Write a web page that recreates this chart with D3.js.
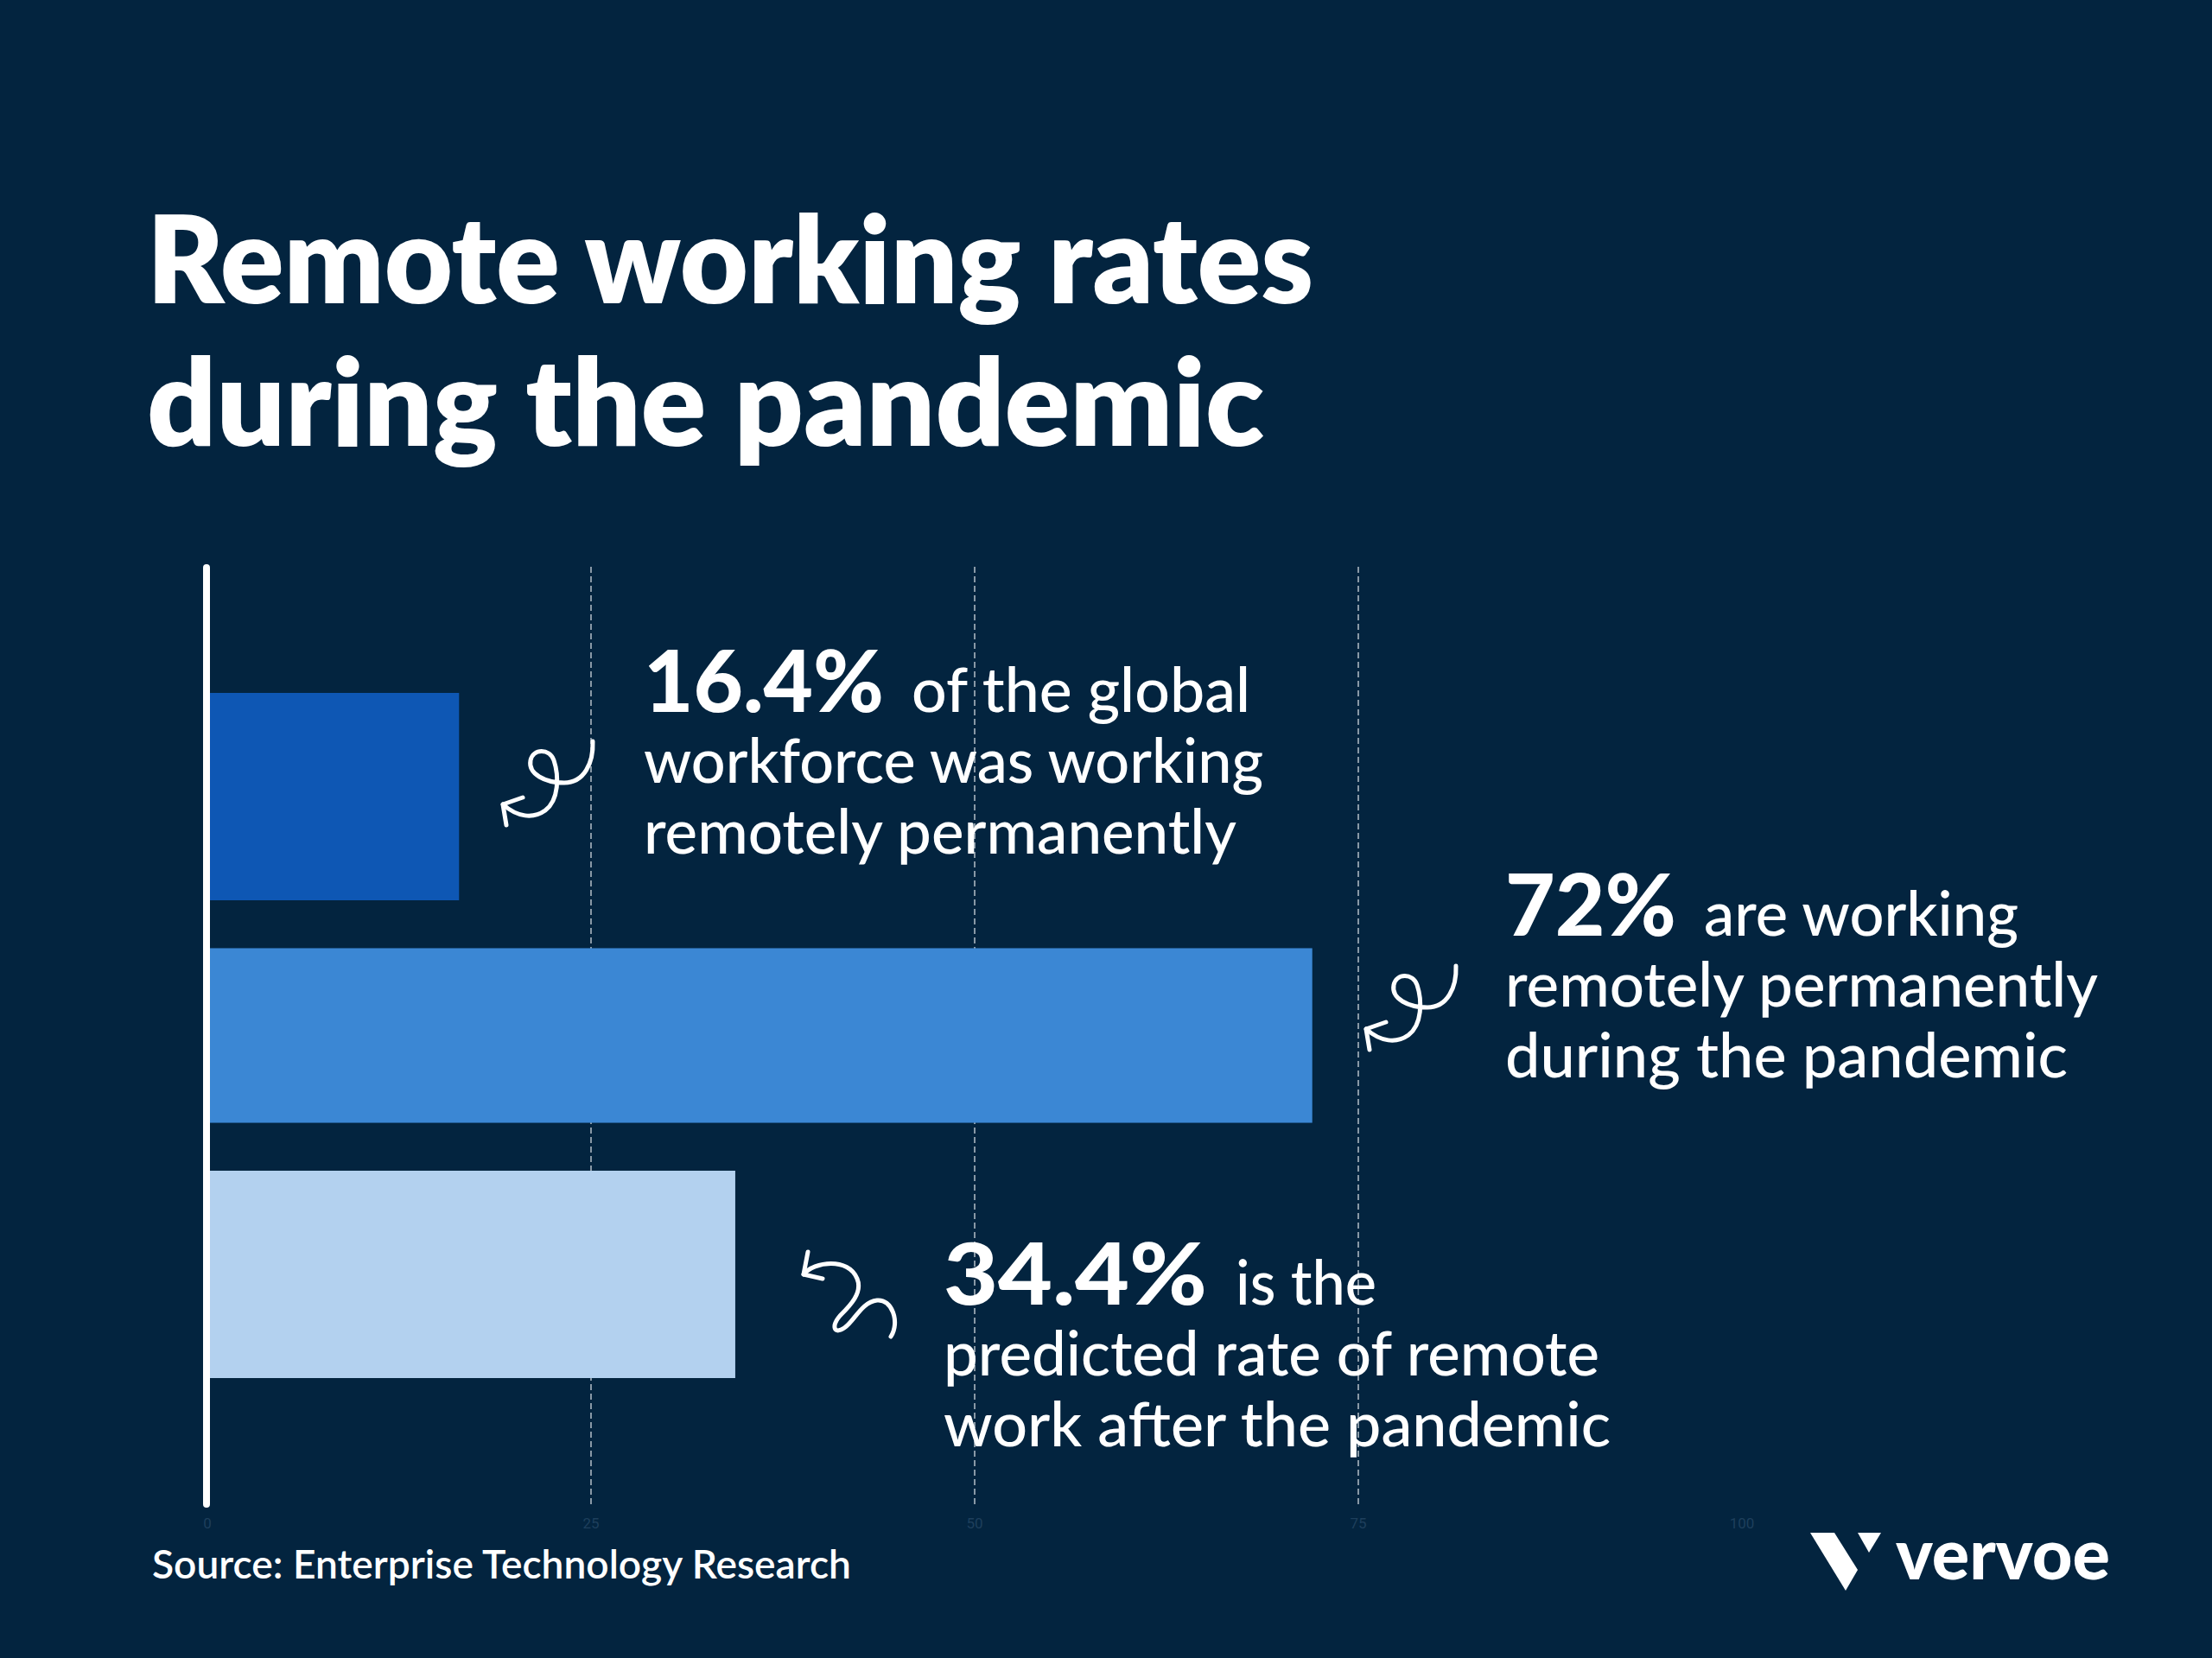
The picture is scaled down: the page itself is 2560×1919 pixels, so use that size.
<!DOCTYPE html>
<html><head><meta charset="utf-8">
<script src="https://cdn.jsdelivr.net/npm/d3@7"></script>
<style>html,body{margin:0;padding:0;background:#03243f;} svg{display:block}</style>
</head><body><svg id="c" width="2560" height="1919"></svg>
<script>
// ---------- data ----------
const categories = ["Before the pandemic", "During the pandemic", "After the pandemic"];
const values = [16.4, 72, 34.4];
const valueLabels = ["16.4%", "72%", "34.4%"];
const firstLineText = ["of the global", "are working", "is the"];
const moreLines = [
  ["workforce was working", "remotely permanently"],
  ["remotely permanently", "during the pandemic"],
  ["predicted rate of remote", "work after the pandemic"]
];
const tickValues = [0, 25, 50, 75, 100];
const gridValues = [25, 50, 75];
const titleLines = ["Remote working rates", "during the pandemic"];
const sourceText = "Source: Enterprise Technology Research";
const brandText = "vervoe";

// ---------- layout / style ----------
const W = 2560, H = 1919;
const BG = "#03243f";
const barColors = ["#0e57b4", "#3b87d4", "#b3d1ef"];
const barThickness = [1, 0.842, 1];
const FONT = "Lato, 'Open Sans', sans-serif";

const svg = d3.select("#c");
svg.append("rect").attr("width", W).attr("height", H).attr("fill", BG);

const x = d3.scaleLinear().domain([0, 100]).range([240, 2016]);
const y = d3.scaleBand().domain(categories).range([802, 1595]).paddingInner(0.132);

// helper: uniform font size fitted to target widths, then exact textLength
function fitTexts(nodes, targets, weight) {
  const ratios = nodes.map((n, i) => {
    n.attr("font-size", 100);
    return targets[i] / n.node().getComputedTextLength();
  }).sort((a, b) => a - b);
  const size = 100 * ratios[Math.floor(ratios.length / 2)];
  nodes.forEach((n, i) => {
    n.attr("font-size", size);
    n.attr("textLength", targets[i]).attr("lengthAdjust", "spacingAndGlyphs");
  });
  return size;
}

// ---------- title ----------
const titleBase = [351, 516];
const titleW = [1350, 1293];
const tNodes = titleLines.map((t, i) => svg.append("text")
  .attr("x", 170).attr("y", titleBase[i])
  .attr("fill", "#fff").attr("font-family", FONT).attr("font-weight", 800)
  .text(t));
fitTexts(tNodes, titleW);

// ---------- gridlines ----------
svg.append("g").selectAll("line").data(gridValues).join("line")
  .attr("x1", d => x(d)).attr("x2", d => x(d))
  .attr("y1", 656).attr("y2", 1742)
  .attr("stroke", "#c9d0d8").attr("stroke-width", 1.6)
  .attr("stroke-dasharray", "7,4").attr("opacity", 0.85);

// tick labels (very faint)
svg.append("g").selectAll("text").data(tickValues).join("text")
  .attr("x", d => x(d)).attr("y", 1769)
  .attr("text-anchor", "middle")
  .attr("font-family", "'Liberation Sans Narrow', 'Roboto', sans-serif")
  .attr("font-size", 17).attr("fill", "#1e3f5c")
  .text(d => d);

// ---------- bars ----------
svg.append("g").selectAll("rect").data(values).join("rect")
  .attr("x", x(0))
  .attr("y", (d, i) => y(categories[i]) + y.bandwidth() * (1 - barThickness[i]) / 2)
  .attr("width", d => x(d) - x(0))
  .attr("height", (d, i) => y.bandwidth() * barThickness[i])
  .attr("fill", (d, i) => barColors[i]);

// axis line
svg.append("line")
  .attr("x1", 239).attr("x2", 239).attr("y1", 657).attr("y2", 1741)
  .attr("stroke", "#fff").attr("stroke-width", 8).attr("stroke-linecap", "round");

// ---------- annotations ----------
const annX = [745, 1742, 1092];
const numBase = [824, 1083, 1510];
const wordX = [1055, 1972, 1430];
const lineGap = 82;
const numW = [278, 198, 305];
const firstW = [392, 364, 163];
const moreW = [[717, 686], [686, 651], [759, 772]];

const numNodes = [], regNodes = [], regTargets = [];
values.forEach((v, i) => {
  numNodes.push(svg.append("text").attr("x", annX[i]).attr("y", numBase[i])
    .attr("fill", "#fff").attr("font-family", FONT).attr("font-weight", 900)
    .text(valueLabels[i]));
  regNodes.push(svg.append("text").attr("x", wordX[i]).attr("y", numBase[i])
    .attr("fill", "#fff").attr("font-family", FONT).attr("font-weight", 500)
    .text(firstLineText[i]));
  regTargets.push(firstW[i]);
  moreLines[i].forEach((t, j) => {
    regNodes.push(svg.append("text").attr("x", annX[i]).attr("y", numBase[i] + lineGap * (j + 1))
      .attr("fill", "#fff").attr("font-family", FONT).attr("font-weight", 500)
      .text(t));
    regTargets.push(moreW[i][j]);
  });
});
fitTexts(numNodes, numW);
fitTexts(regNodes, regTargets);

// ---------- curly arrows ----------
const curlA = "M105,0 C106,25 95,48 72,48 C50,48 30,38 33,22 C36,8 55,8 60,22 C66,40 66,68 50,80 C36,90 18,88 1,73";
const curlAHead = "M24,65 L1,73 L5,97";
const curlB = "M3,30 C15,15 55,10 65,35 C72,52 55,68 45,78 C35,90 38,100 50,92 C62,84 70,62 88,60 C105,58 115,85 104,102";
const curlBHead = "M8,4 L3,30 L25,35";
const arrows = [
  {tx: 581, ty: 858, p: curlA, h: curlAHead},
  {tx: 1580, ty: 1118, p: curlA, h: curlAHead},
  {tx: 927, ty: 1445, p: curlB, h: curlBHead}
];
arrows.forEach(a => {
  const g = svg.append("g").attr("transform", `translate(${a.tx},${a.ty})`)
    .attr("fill", "none").attr("stroke", "#fff").attr("stroke-width", 5)
    .attr("stroke-linecap", "round").attr("stroke-linejoin", "round");
  g.append("path").attr("d", a.p);
  g.append("path").attr("d", a.h);
});

// ---------- source ----------
const src = svg.append("text").attr("x", 176).attr("y", 1827)
  .attr("fill", "#fff").attr("font-family", FONT).attr("font-weight", 600)
  .text(sourceText);
fitTexts([src], [809]);

// ---------- brand logo ----------
const logo = svg.append("g").attr("fill", "#fff");
logo.append("polygon").attr("points", "2095,1774 2123,1774 2150,1817 2136,1841");
logo.append("polygon").attr("points", "2150,1774 2177,1774 2163,1797");
const brand = logo.append("text").attr("x", 2194).attr("y", 1828)
  .attr("font-family", FONT).attr("font-weight", 900).text(brandText);
fitTexts([brand], [248]);
</script>
</body></html>
